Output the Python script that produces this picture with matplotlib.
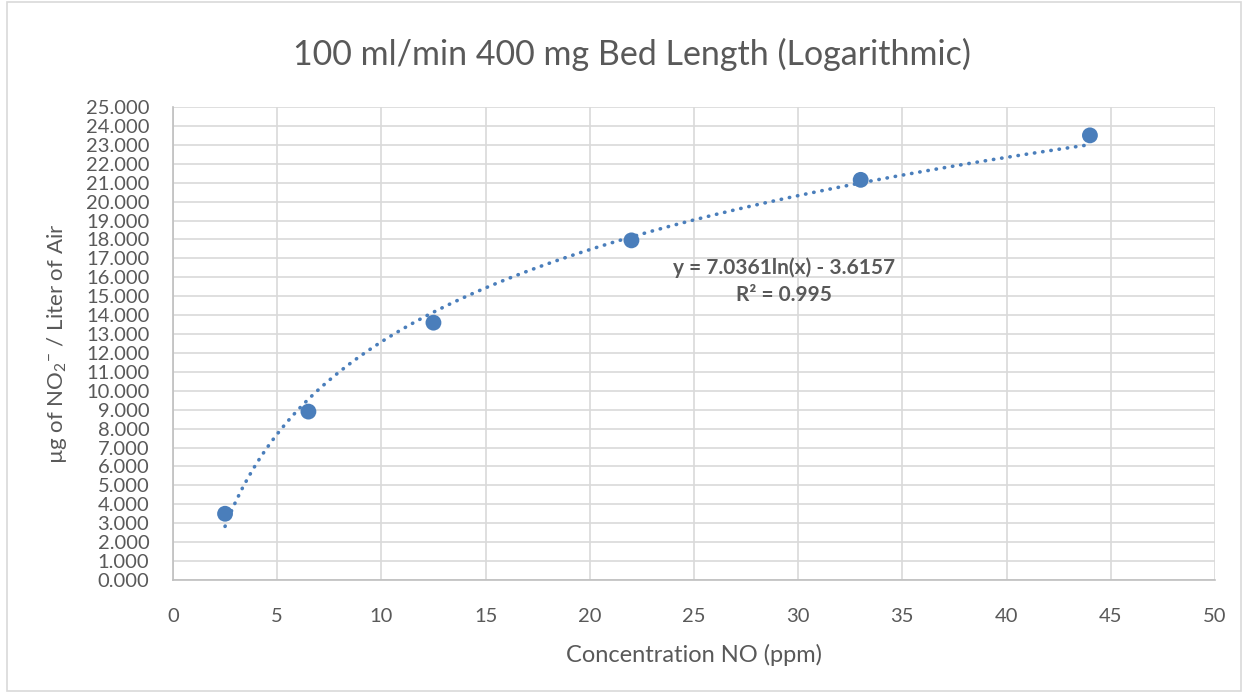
import numpy as np
import matplotlib
matplotlib.use('Agg')
import matplotlib.pyplot as plt
from matplotlib.patches import Rectangle

plt.rcParams['font.family'] = ['Lato', 'DejaVu Sans']
plt.rcParams['mathtext.fontset'] = 'custom'
plt.rcParams['mathtext.rm'] = 'Lato'
plt.rcParams['mathtext.it'] = 'Lato'

# data
conc_no = [2.5, 6.5, 12.5, 22, 33, 44]
ug_no2 = [3.5, 8.9, 13.6, 17.95, 21.15, 23.5]
# trendline from the label on the chart
coef_a = 7.0361
coef_b = -3.6157
r2 = 0.995

grey = '#595959'
blue = '#4a7ebb'

fig = plt.figure(figsize=(12.46, 6.93), dpi=100)
ax = fig.add_axes([0.1388, 0.1631, 0.8363, 0.6825])

fig.patches.append(Rectangle((0.006, 0.003), 0.99, 0.994, transform=fig.transFigure,
                             fill=False, edgecolor='#d9d9d9', linewidth=1.2))

xs = np.linspace(min(conc_no), max(conc_no), 300)
ax.plot(xs, coef_a * np.log(xs) + coef_b, color=blue, linewidth=2.6,
        linestyle=(0, (0.1, 2.2)), dash_capstyle='round', zorder=3)
ax.scatter(conc_no, ug_no2, s=130, color=blue, zorder=4, edgecolors='none')

ax.set_xlim(0, 50)
ax.set_ylim(0, 25)
ax.set_xticks(np.arange(0, 51, 5))
ax.set_yticks(np.arange(0, 26, 1))
ax.set_yticklabels(['%.3f' % v for v in np.arange(0, 26, 1)])
ax.grid(True, color='#d9d9d9', linewidth=1.2)
ax.set_axisbelow(True)
for s in ['top', 'right']:
    ax.spines[s].set_visible(False)
for s in ['left', 'bottom']:
    ax.spines[s].set_color('#bfbfbf')
    ax.spines[s].set_linewidth(1.2)
ax.tick_params(length=0, labelsize=14.5, colors=grey)
ax.tick_params(axis='y', pad=17)
ax.tick_params(axis='x', pad=20)

fig.text(0.507, 0.921, '100 ml/min 400 mg Bed Length (Logarithmic)', fontsize=24.5,
         color=grey, ha='center', va='center')
ax.set_xlabel('Concentration NO (ppm)', fontsize=17, color=grey, labelpad=14)
ax.set_ylabel(r'µg of NO$_2$$^{-}$ / Liter of Air', fontsize=16, color=grey, labelpad=12)

ax.text(29.3, 15.8, 'y = %.4fln(x) - %.4f\nR² = %.3f' % (coef_a, -coef_b, r2),
        ha='center', va='center', fontsize=15, fontweight='bold', color=grey,
        linespacing=1.45)

fig.savefig('out.png', dpi=100)
